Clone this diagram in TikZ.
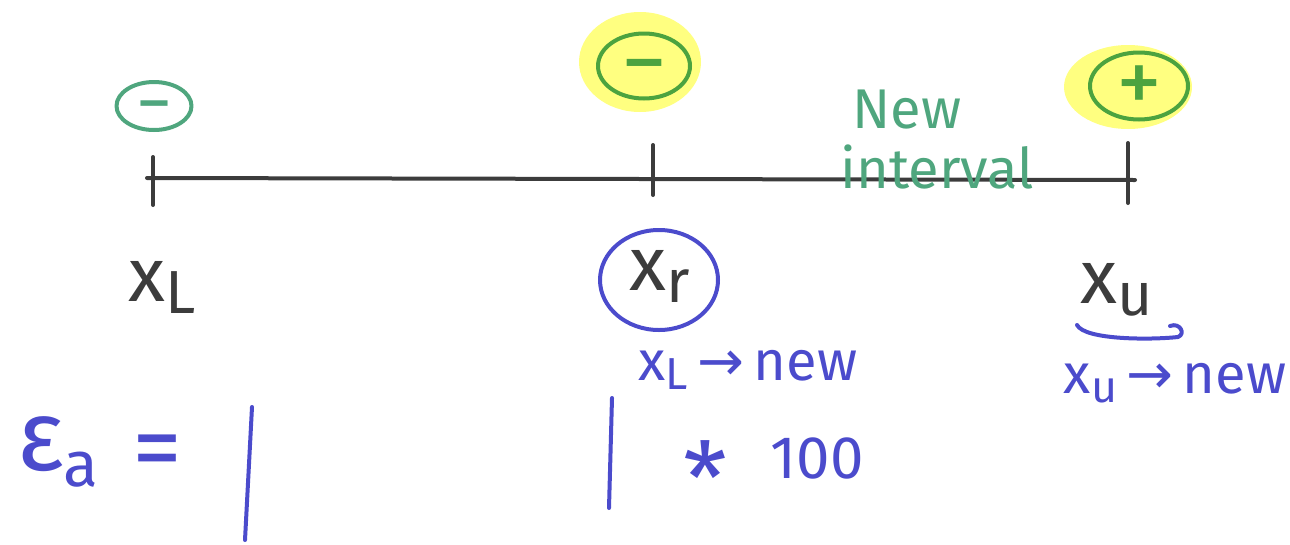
\documentclass[tikz,border=0pt]{standalone}
\usepackage{fontspec}
\setmainfont{Fira Sans}
\newfontfamily\arrowfont{DejaVu Sans}
\usetikzlibrary{shapes.geometric, positioning}
\definecolor{inkgray}{HTML}{3C3C3C}
\definecolor{inkteal}{HTML}{4FA67E}
\definecolor{inkgreen}{HTML}{4CA33F}
\definecolor{inkblue}{HTML}{4B4BCC}
\definecolor{marker}{HTML}{FFFF80}
\newcommand{\lowidx}[1]{\raisebox{-0.3ex}{\scalebox{0.8}{#1}}}
\newcommand{\goesto}{\,{\arrowfont →}\,}
\newcommand{\midsign}[1]{\smash{\raisebox{-0.3em}{#1}}}

\begin{document}
\begin{tikzpicture}[
		x=1pt, y=-1pt,
		line cap=round,
		line join=round,
		ink/.style={line width=4pt},
		tickmark/.style={ink, draw=inkgray},
		signbox/.style={
				draw,
				ellipse,
				line width=4pt,
				inner sep=0pt
			},
		glow/.style={ellipse, fill=marker, draw=none, inner sep=0pt},
		hand/.style={inner sep=0pt, font=\fontsize{76}{76}\selectfont},
		note/.style={inner sep=0pt, text=inkblue, font=\fontsize{56}{56}\selectfont}
	]
	\useasboundingbox (0,0) rectangle (1290,544);

	% number line
	\coordinate (lineL) at (147,178);
	\coordinate (lineR) at (1135,180);
	\draw[ink, draw=inkgray] (lineL) -- (lineR);
	\draw[tickmark] (153,157) -- (153,205);
	\draw[tickmark] (653,145) -- (653,195);
	\draw[tickmark] (1128,143) -- (1128,203);

	% signs above the line
	\node[signbox, draw=inkteal, minimum width=75pt, minimum height=48pt,
		font=\fontsize{72}{72}\selectfont, text=inkteal] (lowsign) at (154,106) {\midsign{−}};

	\node[glow, minimum width=122pt, minimum height=100pt] (rootglow) at (640,62) {};
	\node[signbox, draw=inkgreen, minimum width=92pt, minimum height=65pt,
		font=\fontsize{92}{92}\selectfont, text=inkgreen] (rootsign) at (644,66) {\midsign{−}};

	\node[glow, minimum width=128pt, minimum height=84pt] (upglow) at (1128,87) {};
	\node[signbox, draw=inkgreen, minimum width=98pt, minimum height=67pt,
		font=\fontsize{92}{92}\selectfont, text=inkgreen] (upsign) at (1139,86) {\midsign{+}};

	\node[inner sep=0pt, text=inkteal, align=left,
		font=\fontsize{56}{60}\selectfont] (newint) at (937,140) {\hspace*{12pt}New\\interval};

	% bracket ends
	\node[hand, text=inkgray] (xlow) at (162,287) {x\lowidx{L}};
	\node[hand, text=inkgray] (xroot) at (660,276) {x\lowidx{r}};
	\node[signbox, draw=inkblue, minimum width=118pt, minimum height=100pt] (rootring) at (659,280) {};
	\node[hand, text=inkgray] (xup) at (1117,290) {x\lowidx{u}};
	\draw[ink, draw=inkblue] (1077,325) .. controls (1085,340) and (1150,340) .. (1178,337)
		.. controls (1186,334) and (1180,322) .. (1170,326);

	\node[note] (lownew) at (748,370) {x\lowidx{L}\goesto new};
	\node[note] (upnew) at (1175,383) {x\lowidx{u}\goesto new};

	% relative error
	\node[inner sep=0pt, text=inkblue, font=\fontsize{100}{100}\selectfont] (epsa) at (58,452) {ε\lowidx{\scalebox{0.8}{a}}};
	\node[note, font=\fontsize{100}{100}\selectfont] (equal) at (157,458) {=};
	\coordinate (barLtop) at (252,407);
	\coordinate (barLbot) at (245,540);
	\coordinate (barRtop) at (612,398);
	\coordinate (barRbot) at (609,508);
	\draw[ink, draw=inkblue] (barLtop) -- (barLbot);
	\draw[ink, draw=inkblue] (barRtop) -- (barRbot);
	\node[note, font=\fontsize{100}{100}\selectfont] (times) at (705,478) {*};
	\node[note, font=\fontsize{60}{60}\selectfont] (hundred) at (817,458) {100};
\end{tikzpicture}
\end{document}
